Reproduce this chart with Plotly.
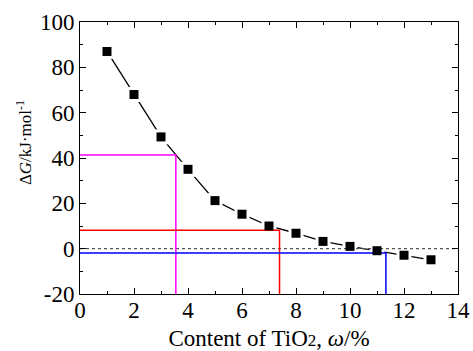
import plotly.graph_objects as go

tio2 = [1, 2, 3, 4, 5, 6, 7, 8, 9, 10, 11, 12, 13]
delta_g = [87, 68, 49.3, 35, 21.2, 15.2, 10, 6.8, 3.2, 1.0, -0.9, -2.9, -4.9]

magenta_x = [0, 3.55, 3.55]
magenta_y = [41.3, 41.3, -20]
red_x = [0, 7.39, 7.39]
red_y = [8.1, 8.1, -20]
blue_x = [0, 11.33, 11.33]
blue_y = [-1.9, -1.9, -20]
zero_x = [0, 14]
zero_y = [0, 0]

x_ticks = [0, 2, 4, 6, 8, 10, 12, 14]
y_ticks = [-20, 0, 20, 40, 60, 80, 100]
y_ticktext = ["-20", "0", "20", "40", "60", "80", "100"]

FONT = "Liberation Serif"

fig = go.Figure()
# connecting line
fig.add_trace(go.Scatter(x=tio2, y=delta_g, mode="lines",
                         line=dict(color="black", width=1.3), hoverinfo="skip"))
# white squares to create gaps in the line around symbols
fig.add_trace(go.Scatter(x=tio2, y=delta_g, mode="markers",
                         marker=dict(symbol="square", size=15, color="white",
                                     line=dict(width=0)), hoverinfo="skip"))
fig.add_trace(go.Scatter(x=zero_x, y=zero_y, mode="lines",
                         line=dict(color="#555555", width=1.2, dash="3px,3px"), hoverinfo="skip"))
fig.add_trace(go.Scatter(x=magenta_x, y=magenta_y, mode="lines",
                         line=dict(color="#ff00ff", width=1.5)))
fig.add_trace(go.Scatter(x=red_x, y=red_y, mode="lines",
                         line=dict(color="#ff0000", width=1.5)))
fig.add_trace(go.Scatter(x=blue_x, y=blue_y, mode="lines",
                         line=dict(color="#0000ff", width=1.5)))
fig.add_trace(go.Scatter(x=tio2, y=delta_g, mode="markers",
                         marker=dict(symbol="square", size=9, color="black",
                                     line=dict(width=0))))

fig.update_layout(
    width=473, height=351,
    margin=dict(l=80, r=15, t=22, b=57),
    paper_bgcolor="white", plot_bgcolor="white",
    showlegend=False,
    font=dict(family=FONT, size=23, color="black"),
)
fig.update_xaxes(
    range=[0, 14], tickvals=x_ticks, automargin=False,
    ticks="inside", ticklen=6, tickwidth=1, tickcolor="black",
    minor=dict(ticks="inside", ticklen=3, dtick=1, tickcolor="black", showgrid=False),
    showline=True, linecolor="black", linewidth=1, mirror="ticks",
    showgrid=False, zeroline=False,
    tickfont=dict(family=FONT, size=23), ticklabelstandoff=-5,
    title=dict(text="Content of TiO<span style='font-size:17px'>2</span>, <i>ω</i>/%",
               font=dict(family=FONT, size=23), standoff=9),
)
fig.update_yaxes(
    range=[-20, 100], tickvals=y_ticks, ticktext=y_ticktext, automargin=False,
    ticks="inside", ticklen=6, tickwidth=1, tickcolor="black",
    minor=dict(ticks="inside", ticklen=3, dtick=10, tickcolor="black", showgrid=False),
    showline=True, linecolor="black", linewidth=1, mirror="ticks",
    showgrid=False, zeroline=False,
    tickfont=dict(family=FONT, size=23),
)
fig.add_annotation(
    text="Δ<i>G</i>/kJ·mol<sup>-1</sup>", xref="paper", yref="paper",
    x=-0.148, y=0.555, xanchor="center", yanchor="middle", textangle=-90,
    showarrow=False, font=dict(family=FONT, size=17),
)

fig.write_html(
    "out.html",
    config={"displayModeBar": False},
    post_script="document.body.style.margin='0';document.body.style.overflow='hidden';",
)
